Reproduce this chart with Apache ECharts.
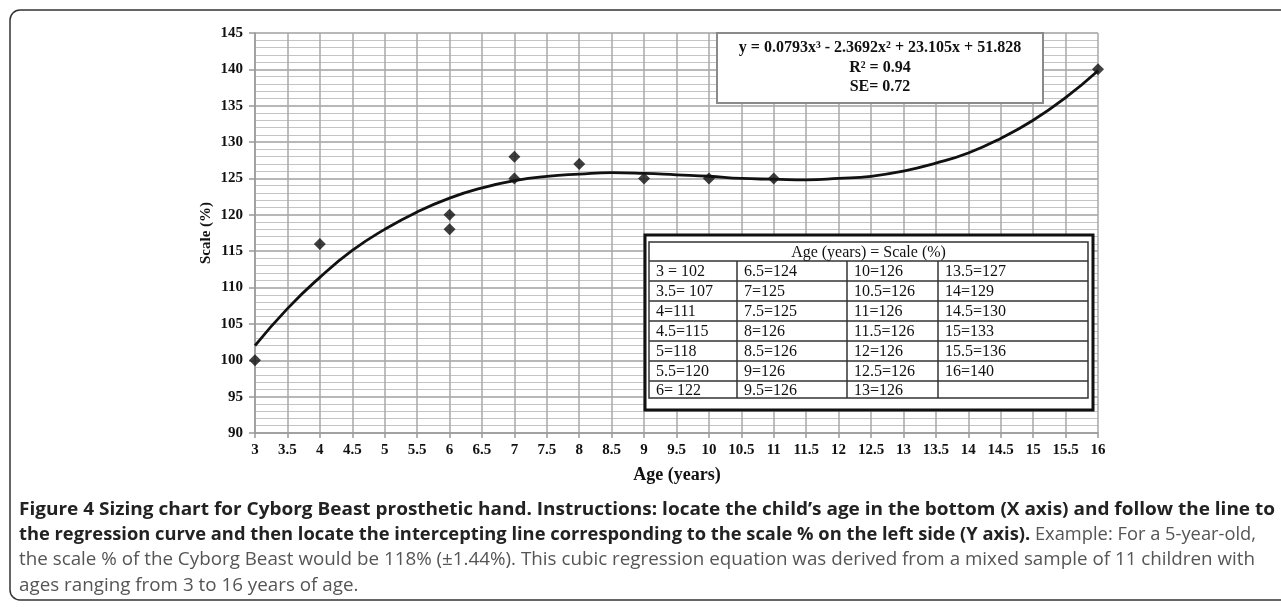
<!DOCTYPE html>
<html><head><meta charset="utf-8">
<script src="https://cdn.jsdelivr.net/npm/echarts@6/dist/echarts.min.js"></script>
<style>html,body{margin:0;padding:0;background:#fff}#c{width:1281px;height:607px}</style>
</head><body><div id="c"></div>
<script>
// ---- data ----
const obsAge   = [3, 4, 6, 6, 7, 7, 8, 9, 10, 11, 16];
const obsScale = [100, 116, 120, 118, 128, 125, 127, 125, 125, 125, 140];
const curveAge = [3,3.5,4,4.5,5,5.5,6,6.5,7,7.5,8,8.5,9,9.5,10,10.5,11,11.5,12,12.5,13,13.5,14,14.5,15,15.5,16];
const curveScale = [102.0,107.1,111.4,115.1,118.0,120.4,122.3,123.7,124.7,125.3,125.6,125.8,125.7,125.5,125.3,125.0,124.9,124.8,125.0,125.3,126.0,127.1,128.5,130.5,133.0,136.1,139.8];
const equationLines = ['y = 0.0793x³ - 2.3692x² + 23.105x + 51.828', 'R² = 0.94', 'SE= 0.72'];
const tableHeader = 'Age (years) = Scale (%)';
const tableCol1 = ['3 = 102','3.5= 107','4=111','4.5=115','5=118','5.5=120','6= 122'];
const tableCol2 = ['6.5=124','7=125','7.5=125','8=126','8.5=126','9=126','9.5=126'];
const tableCol3 = ['10=126','10.5=126','11=126','11.5=126','12=126','12.5=126','13=126'];
const tableCol4 = ['13.5=127','14=129','14.5=130','15=133','15.5=136','16=140',''];
const xName = 'Age (years)';
const yName = 'Scale (%)';
const captionBold1 = 'Figure 4 Sizing chart for Cyborg Beast prosthetic hand. Instructions: locate the child\u2019s age in the bottom (X axis) and follow the line to';
const captionBold2 = 'the regression curve and then locate the intercepting line corresponding to the scale % on the left side (Y axis).';
const captionReg2 = ' Example: For a 5-year-old,';
const captionReg3 = 'the scale % of the Cyborg Beast would be 118% (\u00b11.44%). This cubic regression equation was derived from a mixed sample of 11 children with';
const captionReg4 = 'ages ranging from 3 to 16 years of age.';

// ---- helpers ----
const serif = '"Liberation Serif", "Times New Roman", serif';
const mctx = document.createElement('canvas').getContext('2d');
function tw(txt, font){ mctx.font = font; return mctx.measureText(txt).width; }
const capSize = 18;
const fB = 'bold ' + capSize + 'px "Open Sans"';
const fR = capSize + 'px "Open Sans"';

const graphics = [];
// outer frame
graphics.push({type:'rect', shape:{x:10,y:10,width:1300,height:590,r:10}, style:{fill:'none',stroke:'#333',lineWidth:1.5}, z:0});

// equation box
graphics.push({type:'rect', shape:{x:717,y:33,width:326,height:70}, style:{fill:'#fff',stroke:'#8a8a8a',lineWidth:2}, z:10});
const eqY = [48, 68, 87];
equationLines.forEach((t,i)=>graphics.push({type:'text', x:880, y:eqY[i], z:11,
  style:{text:t, font:'bold 16px '+serif, fill:'#111', align:'center', verticalAlign:'middle'}}));

// table
graphics.push({type:'rect', shape:{x:645,y:235,width:448,height:175}, style:{fill:'#fff',stroke:'#111',lineWidth:3}, z:10});
graphics.push({type:'rect', shape:{x:649,y:242,width:439,height:156}, style:{fill:'#fff',stroke:'#333',lineWidth:1.5}, z:10});
const colX = [649, 737, 847, 938, 1088];
const rowY = [242, 261, 281, 301, 321, 341, 361, 381, 398];
for (let r = 1; r < rowY.length - 1; r++) {
  graphics.push({type:'line', shape:{x1:649,y1:rowY[r],x2:1088,y2:rowY[r]}, style:{stroke:'#333',lineWidth:1.5}, z:11});
}
for (let c = 1; c < colX.length - 1; c++) {
  graphics.push({type:'line', shape:{x1:colX[c],y1:261,x2:colX[c],y2:398}, style:{stroke:'#333',lineWidth:1.5}, z:11});
}
graphics.push({type:'text', x:(649+1088)/2, y:(242+261)/2+1, z:12,
  style:{text:tableHeader, font:'16px '+serif, fill:'#111', align:'center', verticalAlign:'middle'}});
[tableCol1, tableCol2, tableCol3, tableCol4].forEach((col, c) => {
  col.forEach((t, r) => {
    if (!t) return;
    graphics.push({type:'text', x:colX[c]+7, y:(rowY[r+1]+rowY[r+2])/2+1, z:12,
      style:{text:t, font:'16px '+serif, fill:'#111', align:'left', verticalAlign:'middle'}});
  });
});

// axis names
graphics.push({type:'text', x:677, y:475, z:5, style:{text:xName, font:'bold 18px '+serif, fill:'#111', align:'center', verticalAlign:'middle'}});
graphics.push({type:'text', x:206, y:233, rotation:Math.PI/2, z:5, style:{text:yName, font:'bold 15px '+serif, fill:'#111', align:'center', verticalAlign:'middle'}});

// caption
const s1 = 1256 / tw(captionBold1, fB);
const s2 = 1237 / (tw(captionBold2, fB) + tw(captionReg2, fR));
const s3 = 1236 / tw(captionReg3, fR);
const rich = { b:{font:fB, fill:'#222'}, r:{font:fR, fill:'#555'} };
graphics.push({type:'text', x:19, y:510, scaleX:s1, z:5, style:{text:'{b|'+captionBold1+'}', rich, verticalAlign:'middle'}});
graphics.push({type:'text', x:19, y:535, scaleX:s2, z:5, style:{text:'{b|'+captionBold2+'}{r|'+captionReg2+'}', rich, verticalAlign:'middle'}});
graphics.push({type:'text', x:19, y:560, scaleX:s3, z:5, style:{text:'{r|'+captionReg3+'}', rich, verticalAlign:'middle'}});
graphics.push({type:'text', x:19, y:586, scaleX:s3, z:5, style:{text:'{r|'+captionReg4+'}', rich, verticalAlign:'middle'}});

const chart = echarts.init(document.getElementById('c'), null, {renderer:'canvas'});
chart.setOption({
  backgroundColor:'#fff',
  animation:false,
  grid:{left:255, top:33, width:843, height:400, containLabel:false},
  xAxis:{type:'value', min:3, max:16, interval:0.5,
    axisLine:{show:true, lineStyle:{color:'#999', width:1.5}},
    axisTick:{show:true, length:5, lineStyle:{color:'#999', width:1.5}},
    axisLabel:{margin:10, color:'#111', fontFamily:serif, fontWeight:'bold', fontSize:15,
      formatter:v=>String(Math.round(v*10)/10)},
    splitLine:{show:true, lineStyle:{color:'#a8a8a8', width:1.5}}
  },
  yAxis:{type:'value', min:90, max:145, interval:5,
    axisLine:{show:true, lineStyle:{color:'#999', width:1.5}},
    axisTick:{show:true, length:6, lineStyle:{color:'#999', width:1.5}},
    axisLabel:{margin:12, color:'#111', fontFamily:serif, fontWeight:'bold', fontSize:15},
    splitLine:{show:true, lineStyle:{color:'#a0a0a0', width:1.5}},
    minorTick:{show:false, splitNumber:5},
    minorSplitLine:{show:true, lineStyle:{color:'#c4c4c4', width:1.2}}
  },
  series:[
    {type:'line', data:curveAge.map((a,i)=>[a,curveScale[i]]), smooth:true, showSymbol:false, symbol:'none',
     lineStyle:{color:'#111', width:2.8}, z:3},
    {type:'scatter', data:obsAge.map((a,i)=>[a,obsScale[i]]), symbol:'diamond', symbolSize:12,
     itemStyle:{color:'#111'}, z:4}
  ],
  graphic:graphics
});
</script></body></html>
